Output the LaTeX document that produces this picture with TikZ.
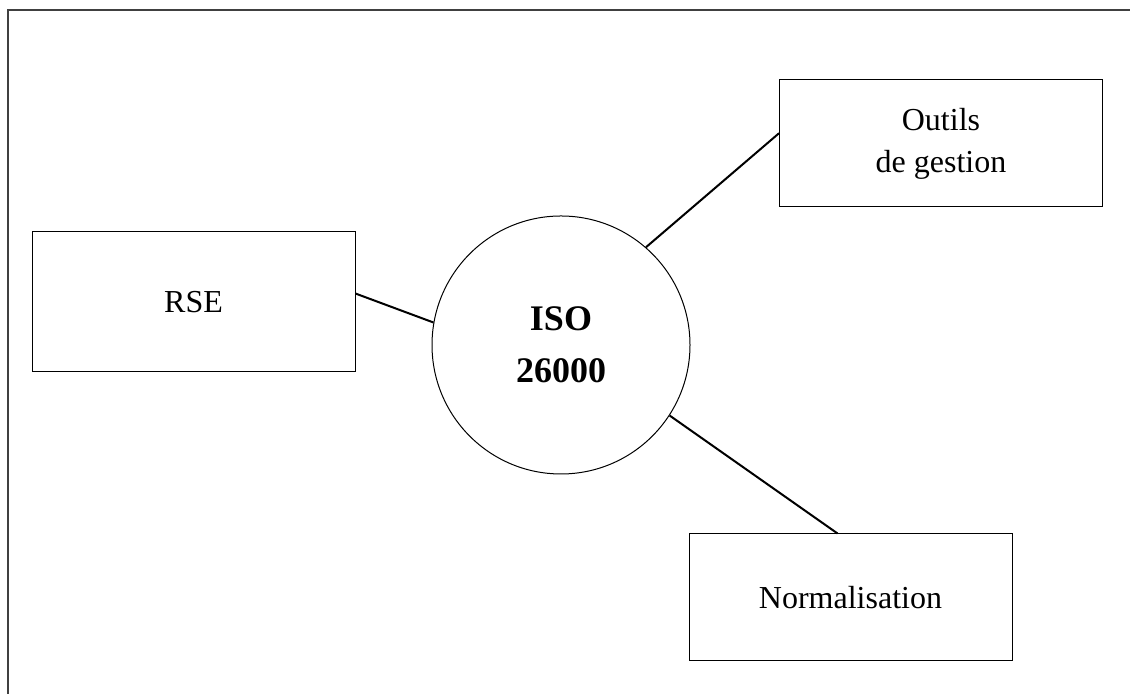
\documentclass[tikz,border=0pt]{standalone}
\usepackage{fontspec}
\setmainfont{Liberation Serif}
\usepackage{tikz}
\usetikzlibrary{calc,positioning}

\begin{document}
\begin{tikzpicture}[x=0.5pt,y=0.5pt,
  box/.style={draw,line width=0.5pt,minimum width=161.5pt,minimum height=63.5pt,inner sep=0pt,align=center,font=\fontsize{16}{21}\selectfont},
  link/.style={line width=1pt}]
\useasboundingbox (0,0) rectangle (1130,694);
\draw[line width=0.8pt,black!75] (8,0) -- (8,684) -- (1130,684);
\node[draw,circle,line width=0.5pt,minimum size=129pt,inner sep=0pt,align=center,font=\bfseries\fontsize{18}{26}\selectfont] (iso) at (561,349) {ISO\\26000};
\node[box,minimum height=70pt] (rse) at (193.5,392) {RSE};
\node[box] (outils) at (941,550.5) {Outils\\de gestion};
\node[box] (norme) at (850.5,96.5) {Normalisation};
\draw[link] ($(rse.north east)!0.44!(rse.south east)$) -- (iso.170);
\draw[link] ($(outils.north west)!0.42!(outils.south west)$) -- (iso.49);
\draw[link] ($(norme.north west)!0.46!(norme.north east)$) -- (iso.327);
\end{tikzpicture}
\end{document}
